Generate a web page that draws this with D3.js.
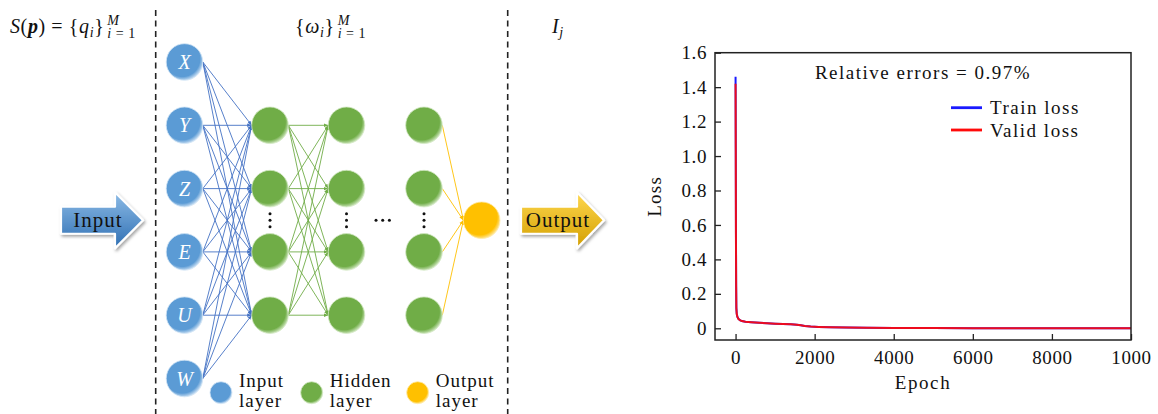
<!DOCTYPE html>
<html lang="en">
<head>
<meta charset="utf-8">
<script src="https://d3js.org/d3.v7.min.js"></script>
<style>
  body { margin: 0; background: #fff; }
  text { font-family: "Liberation Serif", "DejaVu Serif", serif; fill: #111; }
</style>
</head>
<body>
<script>
// ---------- data ----------
const inputNames = ["X", "Y", "Z", "E", "U", "W"];
const hiddenRows = [1, 2, 3, 4];          // hidden nodes sit on rows Y..U
const legendNames = ["Input", "Hidden", "Output"];

const epochs    = [0, 5, 10, 15, 20, 30, 45, 70, 110, 160, 250, 400, 600, 800, 1000, 1200, 1400, 1550, 1650, 1750, 1900, 2100, 2400, 2800, 3300, 4000, 5000, 6000, 7000, 8000, 9000, 10000];
const trainLoss = [1.46, 1.05, 0.55, 0.25, 0.12, 0.085, 0.068, 0.056, 0.047, 0.042, 0.038, 0.035, 0.032, 0.029, 0.027, 0.025, 0.023, 0.021, 0.017, 0.013, 0.010, 0.008, 0.006, 0.004, 0.003, 0.002, 0.001, 0.0005, 0, 0, 0, 0];
const validLoss = [1.42, 1.02, 0.53, 0.24, 0.115, 0.083, 0.067, 0.055, 0.047, 0.042, 0.038, 0.035, 0.032, 0.029, 0.027, 0.025, 0.023, 0.021, 0.017, 0.013, 0.010, 0.008, 0.006, 0.004, 0.003, 0.002, 0.001, 0.0005, 0, 0, 0, 0];

const xTicks = [0, 2000, 4000, 6000, 8000, 10000];
const xTickLabels = ["0", "2000", "4000", "6000", "8000", "1000"];
const yTicks = [0, 0.2, 0.4, 0.6, 0.8, 1.0, 1.2, 1.4, 1.6];
const yTickLabels = ["0", "0.2", "0.4", "0.6", "0.8", "1.0", "1.2", "1.4", "1.6"];

const svg = d3.select("body").append("svg").attr("width", 1158).attr("height", 414);
const defs = svg.append("defs");

// node gradients
const nodeColors = {
  input:  ["#5b9bd5", "#d2e4f5"],
  hidden: ["#70ad47", "#d3e8c4"],
  output: ["#ffc000", "#ffeaa6"]
};
Object.entries(nodeColors).forEach(([k, c]) => {
  const g = defs.append("radialGradient").attr("id", "grad-" + k)
    .attr("cx", "44%").attr("cy", "42%").attr("r", "60%");
  g.append("stop").attr("offset", "0%").attr("stop-color", c[0]);
  g.append("stop").attr("offset", "80%").attr("stop-color", c[0]);
  g.append("stop").attr("offset", "100%").attr("stop-color", c[1]);
});

// edge arrowheads
const edgeColors = { blue: "#4472c4", green: "#70ad47", yellow: "#ffc000" };
Object.entries(edgeColors).forEach(([k, c]) => {
  defs.append("marker").attr("id", "arr-" + k)
    .attr("viewBox", "0 0 10 10").attr("refX", 10).attr("refY", 5)
    .attr("markerWidth", 5).attr("markerHeight", 5).attr("orient", "auto")
    .append("path").attr("d", "M0,1L10,5L0,9Z").attr("fill", c);
});

// big arrow gradients + shadow
const arrowGrad = { inArrow: ["#8cbbe6", "#2f6fb3"], outArrow: ["#ffd84f", "#d29e00"] };
Object.entries(arrowGrad).forEach(([k, c]) => {
  const g = defs.append("linearGradient").attr("id", "grad-" + k)
    .attr("x1", 0).attr("y1", 0).attr("x2", 0).attr("y2", 1);
  g.append("stop").attr("offset", "0%").attr("stop-color", c[0]);
  g.append("stop").attr("offset", "100%").attr("stop-color", c[1]);
});
defs.append("filter").attr("id", "shadow").attr("x", "-20%").attr("y", "-20%").attr("width", "140%").attr("height", "150%")
  .append("feDropShadow").attr("dx", 1.5).attr("dy", 2).attr("stdDeviation", 1.5).attr("flood-color", "#000").attr("flood-opacity", 0.35);

/*--------------------- network diagram ---------------------*/
const R = 18.3;
const layerX = { input: 184.5, h1: 270, h2: 346.5, h3: 424, out: 481.7 };
const rowY = d3.scaleLinear().domain([0, inputNames.length - 1]).range([62, 378.5]);
const outY = rowY(2.5);
const midY = rowY(2.5);

// dashed separators
[155.7, 507.7].forEach(xx => {
  svg.append("line").attr("x1", xx).attr("x2", xx).attr("y1", 10).attr("y2", 414)
    .attr("stroke", "#222").attr("stroke-width", 1.6).attr("stroke-dasharray", "6,4.5");
});

const edges = svg.append("g").attr("fill", "none").attr("stroke-width", 0.9);
// input -> hidden 1
inputNames.forEach((n, i) => {
  hiddenRows.forEach(j => {
    edges.append("line")
      .attr("x1", layerX.input + R).attr("y1", rowY(i))
      .attr("x2", layerX.h1 - R).attr("y2", rowY(j))
      .attr("stroke", edgeColors.blue).attr("marker-end", "url(#arr-blue)");
  });
});
// hidden 1 -> hidden 2
hiddenRows.forEach(i => {
  hiddenRows.forEach(j => {
    edges.append("line")
      .attr("x1", layerX.h1 + R).attr("y1", rowY(i))
      .attr("x2", layerX.h2 - R).attr("y2", rowY(j))
      .attr("stroke", edgeColors.green).attr("marker-end", "url(#arr-green)");
  });
});
// hidden 3 -> output
hiddenRows.forEach(i => {
  edges.append("line")
    .attr("x1", layerX.h3 + R).attr("y1", rowY(i))
    .attr("x2", layerX.out - R).attr("y2", outY)
    .attr("stroke", edgeColors.yellow).attr("marker-end", "url(#arr-yellow)");
});

function node(cx, cy, r, kind) {
  svg.append("circle").attr("cx", cx).attr("cy", cy).attr("r", r)
    .attr("fill", "url(#grad-" + kind + ")")
    .attr("stroke", nodeColors[kind][1]).attr("stroke-width", 0.8);
}

inputNames.forEach((n, i) => {
  node(layerX.input, rowY(i), R, "input");
  svg.append("text").attr("x", layerX.input).attr("y", rowY(i) + 7)
    .attr("text-anchor", "middle").attr("font-style", "italic").attr("font-size", 20)
    .style("fill", "#fff").text(n);
});
["h1", "h2", "h3"].forEach(l => {
  hiddenRows.forEach(j => node(layerX[l], rowY(j), R, "hidden"));
  [-6.5, 0, 6.5].forEach(d => svg.append("circle").attr("cx", layerX[l]).attr("cy", midY + d).attr("r", 1.5).attr("fill", "#111"));
});
[376, 382.7, 389.4].forEach(xx => svg.append("circle").attr("cx", xx).attr("cy", midY).attr("r", 1.5).attr("fill", "#111"));
node(layerX.out, outY, R, "output");

// input / output block arrows
function blockArrow(x0, xHead, xTip, cy, grad, label, lx) {
  const bh = 13.5, hh = 28;
  const pts = [[x0, cy - bh], [xHead, cy - bh], [xHead, cy - hh], [xTip, cy], [xHead, cy + hh], [xHead, cy + bh], [x0, cy + bh]];
  svg.append("path").attr("d", d3.line()(pts) + "Z")
    .attr("fill", "url(#grad-" + grad + ")").attr("stroke", "#fff").attr("stroke-width", 2.2)
    .attr("stroke-linejoin", "round").attr("filter", "url(#shadow)");
  svg.append("text").attr("x", lx).attr("y", cy + 6.5).attr("text-anchor", "middle")
    .attr("font-size", 21).attr("letter-spacing", 1).text(label);
}
blockArrow(61, 115, 143, midY, "inArrow", "Input", 98);
blockArrow(521, 577, 604, midY, "outArrow", "Output", 558);

// legend for the layers
const legendX = [221, 311.7, 417.7];
const legendKinds = ["input", "hidden", "output"];
legendNames.forEach((n, i) => {
  node(legendX[i], 392.7, 11, legendKinds[i]);
  const t = svg.append("text").attr("x", legendX[i] + 18).attr("y", 387).attr("font-size", 19).attr("letter-spacing", 1);
  t.append("tspan").text(n);
  t.append("tspan").attr("x", legendX[i] + 18).attr("y", 407).text("layer");
});

// math labels on top
function mathLabel(x, parts, sup, sub) {
  const t = svg.append("text").attr("x", x).attr("y", 33).attr("font-size", 20).attr("letter-spacing", 0.6);
  parts.forEach(p => {
    const s = t.append("tspan").text(p.t);
    if (p.i) s.attr("font-style", "italic");
    if (p.b) s.attr("font-weight", "bold");
    if (p.sub) s.attr("font-size", 14).attr("dy", 4);
    if (p.up) s.attr("dy", -4);
  });
  const end = x + t.node().getComputedTextLength() + 3;
  if (sup) svg.append("text").attr("x", end).attr("y", 25).attr("font-size", 14).attr("font-style", "italic").text(sup);
  if (sub) {
    const s = svg.append("text").attr("x", end).attr("y", 38).attr("font-size", 14).attr("letter-spacing", 0.5);
    s.append("tspan").attr("font-style", "italic").text("i");
    s.append("tspan").text(" = 1");
  }
}
mathLabel(10, [{t: "S", i: 1}, {t: "("}, {t: "p", i: 1, b: 1}, {t: ")  =  {"}, {t: "q", i: 1}, {t: "i", i: 1, sub: 1}, {t: "}", up: 1}], "M", true);
mathLabel(295, [{t: "{"}, {t: "ω", i: 1}, {t: "i", i: 1, sub: 1}, {t: "}", up: 1}], "M", true);
mathLabel(552, [{t: "I", i: 1}, {t: "j", i: 1, sub: 1}], null, false);

/*--------------------- loss chart ---------------------*/
const plot = { left: 715, right: 1131, top: 52.7, bottom: 340 };
const x = d3.scaleLinear().domain([-520, 10000]).range([plot.left, plot.right]);
const y = d3.scaleLinear().domain([-0.068, 1.6]).range([plot.bottom, plot.top]);

const chart = svg.append("g").attr("font-size", 19);

chart.append("g").attr("transform", `translate(${plot.left},0)`)
  .call(d3.axisLeft(y).tickValues(yTicks).tickFormat((d, i) => yTickLabels[i])
    .tickSizeInner(-6).tickSizeOuter(0).tickPadding(8))
  .call(g => g.select(".domain").remove())
  .call(g => g.selectAll("line").attr("stroke", "#222").attr("stroke-width", 1.3))
  .call(g => g.selectAll("text").attr("font-size", 19).attr("letter-spacing", 0.6).style("fill", "#111"));

chart.append("g").attr("transform", `translate(0,${plot.bottom})`)
  .call(d3.axisBottom(x).tickValues(xTicks).tickFormat((d, i) => xTickLabels[i])
    .tickSizeInner(-6).tickSizeOuter(0).tickPadding(8))
  .call(g => g.select(".domain").remove())
  .call(g => g.selectAll("line").attr("stroke", "#222").attr("stroke-width", 1.3))
  .call(g => g.selectAll("text").attr("font-size", 19).attr("letter-spacing", 0.6).attr("dy", "0.85em").style("fill", "#111"));

const line = d3.line().x((d, i) => x(epochs[i])).y(d => y(d));
chart.append("path").datum(trainLoss).attr("d", line)
  .attr("fill", "none").attr("stroke", "#1a1aff").attr("stroke-width", 2);
chart.append("path").datum(validLoss).attr("d", line)
  .attr("fill", "none").attr("stroke", "#ff0a0a").attr("stroke-width", 2).attr("stroke-opacity", 0.92);

chart.append("rect").attr("x", plot.left).attr("y", plot.top)
  .attr("width", plot.right - plot.left).attr("height", plot.bottom - plot.top)
  .attr("fill", "none").attr("stroke", "#222").attr("stroke-width", 1.5);

chart.append("text").attr("x", (plot.left + plot.right) / 2).attr("y", 79)
  .attr("text-anchor", "middle").attr("letter-spacing", 1.5).text("Relative errors = 0.97%");

// legend
const legend = [["Train loss", "#1a1aff", 107.7], ["Valid loss", "#ff0a0a", 130]];
legend.forEach(([name, c, ly]) => {
  chart.append("line").attr("x1", 951).attr("x2", 982).attr("y1", ly).attr("y2", ly)
    .attr("stroke", c).attr("stroke-width", 2.8);
  chart.append("text").attr("x", 990).attr("y", ly + 6.5).attr("letter-spacing", 1.5).text(name);
});

chart.append("text").attr("transform", `translate(661,${(plot.top + plot.bottom) / 2}) rotate(-90)`)
  .attr("text-anchor", "middle").attr("letter-spacing", 1.2).text("Loss");
chart.append("text").attr("x", (plot.left + plot.right) / 2).attr("y", 389)
  .attr("text-anchor", "middle").attr("letter-spacing", 1.6).text("Epoch");
</script>
</body>
</html>
